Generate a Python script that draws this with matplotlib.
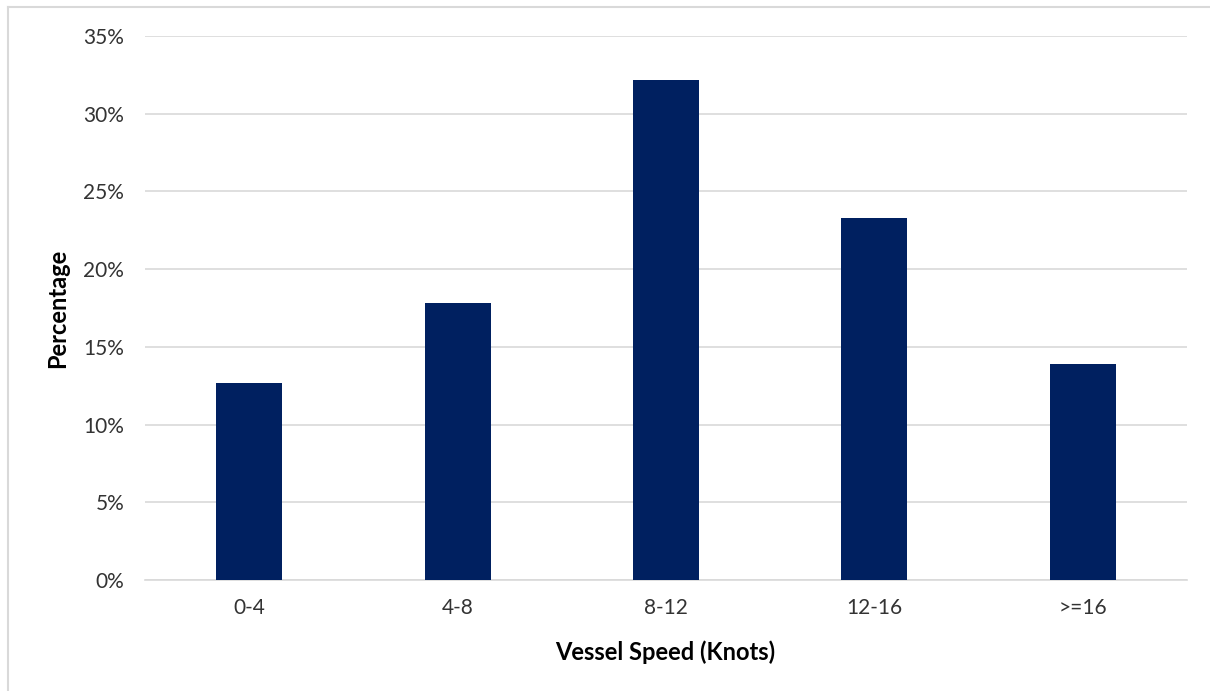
import matplotlib
matplotlib.use("Agg")
import matplotlib.pyplot as plt
from matplotlib.ticker import FuncFormatter, MultipleLocator
from matplotlib.lines import Line2D

categories = ["0-4", "4-8", "8-12", "12-16", ">=16"]
values = [12.7, 17.8, 32.2, 23.3, 13.9]

W, H = 1210, 691
fig = plt.figure(figsize=(W / 100, H / 100), dpi=100)
plt.rcParams['font.family'] = ['Lato', 'DejaVu Sans']

ax = fig.add_axes([145 / W, (H - 580) / H, (1187 - 145) / W, (580 - 36) / H])
x = list(range(len(categories)))
ax.bar(x, values, width=0.317, color="#002060", zorder=3)
ax.set_xlim(-0.5, len(categories) - 0.5)
ax.set_ylim(0, 35)
ax.yaxis.set_major_locator(MultipleLocator(5))
ax.yaxis.set_major_formatter(FuncFormatter(lambda v, p: f"{v:.0f}%"))
ax.set_xticks(x)
ax.set_xticklabels(categories)
ax.grid(axis="y", color="#d9d9d9", linewidth=1.2, zorder=0)
for s in ["top", "right", "left"]:
    ax.spines[s].set_visible(False)
ax.spines["bottom"].set_color("#d9d9d9")
ax.spines["bottom"].set_linewidth(1.2)
ax.tick_params(axis="both", length=0, labelsize=15, colors="#333333")
ax.tick_params(axis="y", pad=15)
ax.tick_params(axis="x", pad=13)

fig.text(58 / W, 1 - 308 / H, "Percentage", rotation=90, ha="center", va="center",
         fontsize=17, fontweight="bold", color="#000000")
fig.text(665 / W, 1 - 652 / H, "Vessel Speed (Knots)", ha="center", va="center",
         fontsize=17, fontweight="bold", color="#000000")

# chart border (top and left visible)
fig.add_artist(Line2D([8 / W, 8 / W], [0, 1 - 7 / H], transform=fig.transFigure,
                      color="#d9d9d9", linewidth=1.5))
fig.add_artist(Line2D([8 / W, 1], [1 - 7 / H, 1 - 7 / H], transform=fig.transFigure,
                      color="#d9d9d9", linewidth=1.5))

fig.savefig("out.png", dpi=100)
